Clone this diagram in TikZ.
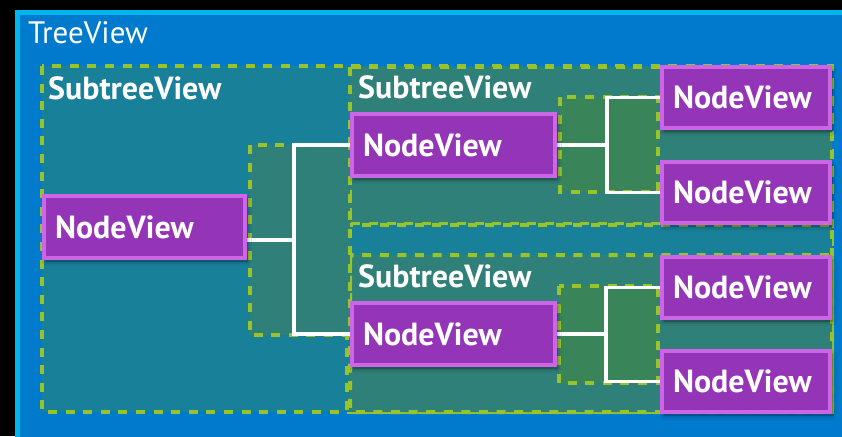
\documentclass[tikz,border=0pt]{standalone}
\usepackage{fontspec}
\setmainfont{PT Sans}
\usetikzlibrary{shadows.blur}

\definecolor{panelfill}{RGB}{0,122,204}
\definecolor{panelrim}{RGB}{0,182,240}
\definecolor{outerfill}{RGB}{25,128,154}
\definecolor{innerfill}{RGB}{46,128,120}
\definecolor{linkfill}{RGB}{58,132,90}
\definecolor{dashgreen}{RGB}{152,196,42}
\definecolor{nodefill}{RGB}{148,53,184}
\definecolor{noderim}{RGB}{204,102,230}

\pgfdeclarelayer{back}
\pgfdeclarelayer{links}
\pgfsetlayers{back,links,main}

\begin{document}
\begin{tikzpicture}[x=1pt,y=-1pt,
  frame/.style={draw=dashgreen, line width=4pt, dash pattern=on 9pt off 8.6pt},
  link/.style={draw=white, line width=3.4pt},
  viewnode/.style={draw=noderim, fill=nodefill, line width=4pt,
    anchor=north west, inner xsep=11pt, inner ysep=0pt, align=left,
    text=white, font=\bfseries\fontsize{32}{36}\selectfont,
    blur shadow={shadow xshift=2pt, shadow yshift=-3pt,
      shadow blur radius=4pt, shadow opacity=55}},
  rootnode/.style={viewnode, text width=179pt, minimum height=62pt},
  midnode/.style={viewnode, text width=181pt, minimum height=62pt},
  leafnode/.style={viewnode, text width=146pt, minimum height=61pt},
  caption/.style={anchor=base west, inner sep=0pt, text=white,
    font=\bfseries\fontsize{32}{36}\selectfont},
  heading/.style={anchor=base west, inner sep=0pt, text=white,
    font=\fontsize{31}{35}\selectfont}]

\useasboundingbox (0,0) rectangle (842,436);
\clip (0,0) rectangle (842,436);

% node views
\node[rootnode] (root) at (42,194) {NodeView};
\node[midnode] (mid1) at (350,112) {NodeView};
\node[midnode] (mid2) at (350,301) {NodeView};
\node[leafnode] (leaf1) at (660,65) {NodeView};
\node[leafnode] (leaf2) at (660,160) {NodeView};
\node[leafnode] (leaf3) at (660,255) {NodeView};
\node[leafnode] (leaf4) at (660,349) {NodeView};

\begin{pgfonlayer}{back}
  \fill[black] (0,0) rectangle (842,436);
  % TreeView panel
  \draw[draw=panelrim, fill=panelfill, line width=5pt] (17.5,12.5) rectangle (870,470);
  \node[heading] (treeview) at (28,44) {TreeView};

  % subtree regions
  \path[frame, fill=outerfill] (42,66) rectangle (832,412);
  \path[frame, fill=innerfill] (350,67) rectangle (832,224);
  \path[frame, fill=outerfill] (347,225) rectangle (832,412);
  \path[frame, fill=innerfill, rounded corners=3pt] (350,255) rectangle (832,412);

  % connector regions
  \path[frame, fill=innerfill] (250,145) rectangle (350,335);
  \path[frame, fill=linkfill] (560,97) rectangle (658,192);
  \path[frame, fill=linkfill] (559,286) rectangle (658,383);

  % subtree captions
  \node[caption] (sub0) at (48,99) {SubtreeView};
  \node[caption] (sub1) at (358,98) {SubtreeView};
  \node[caption] (sub2) at (358,287) {SubtreeView};
\end{pgfonlayer}

% fork points
\coordinate (fork0) at (294,240);
\coordinate (fork1) at (607,145);
\coordinate (fork2) at (606,334);

\begin{pgfonlayer}{links}
  \path[link] (root.east |- fork0) -- (fork0);
  \path[link] (mid1.west) -| (fork0) |- (mid2.west);
  \path[link] (mid1.east) -- (fork1);
  \path[link] (leaf1.west) -| (fork1) |- (leaf2.west);
  \path[link] (mid2.east) -- (fork2);
  \path[link] (leaf3.west) -| (fork2) |- (leaf4.west);
\end{pgfonlayer}
\end{tikzpicture}
\end{document}
